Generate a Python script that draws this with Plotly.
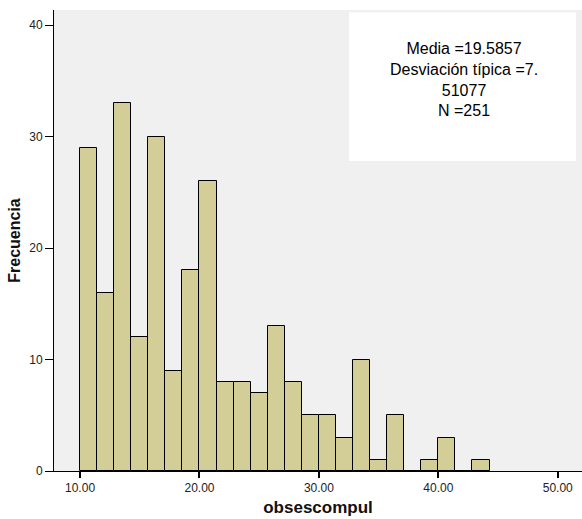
import plotly.graph_objects as go

# Data (histogram of obsescompul)
bin_start = 10.0
bin_width = 10.0 / 7.0
counts = [29, 16, 33, 12, 30, 9, 18, 26, 8, 8, 7, 13, 8, 5, 5, 3, 10, 1, 5, 0, 1, 3, 0, 1]
x_ticks = [10, 20, 30, 40, 50]
x_ticklabels = ["10.00", "20.00", "30.00", "40.00", "50.00"]
y_ticks = [0, 10, 20, 30, 40]
stats_lines = ["Media =19.5857", "Desviación típica =7.", "51077", "N =251"]

W, H = 582, 519
L, R, T, B = 54, 0, 10, 48
PW, PH = W - L - R, H - T - B

def px(x):
    return (x - L) / PW

def py(y):
    return (H - B - y) / PH

centers = [bin_start + bin_width * (i + 0.5) for i in range(len(counts))]

fig = go.Figure()
fig.add_trace(go.Bar(
    x=centers, y=counts, width=[bin_width] * len(counts),
    marker=dict(color="#D3CE97", line=dict(color="#000000", width=1)),
    hoverinfo="skip",
))

fig.add_shape(type="rect", xref="paper", yref="paper",
              x0=px(349), x1=px(576), y0=py(161), y1=py(12.5),
              fillcolor="white", line=dict(width=0), layer="above")

fig.add_annotation(text="<br>".join(stats_lines), xref="paper", yref="paper",
                   x=px(464), y=py(80), xanchor="center", yanchor="middle",
                   showarrow=False, align="center",
                   font=dict(family="Arial, Liberation Sans", size=16, color="#000000"))

font = dict(family="Arial, Liberation Sans", size=12, color="#222222")
fig.update_layout(
    width=W, height=H,
    margin=dict(l=L, r=R, t=T, b=B, pad=0, autoexpand=False),
    paper_bgcolor="white", plot_bgcolor="#F0F0F0",
    showlegend=False, bargap=0,
    font=font,
    xaxis=dict(range=[7.82, 52.03], tickvals=x_ticks, ticktext=x_ticklabels,
               showgrid=False, zeroline=False, showline=True, linecolor="black", linewidth=1,
               ticks="outside", ticklen=6, tickcolor="black", tickwidth=2,
               tickfont=font, automargin=False,
               title=dict(text="<b>obsescompul</b>", standoff=6,
                          font=dict(family="Arial, Liberation Sans", size=17, color="#111111"))),
    yaxis=dict(range=[0, 41.35], tickvals=y_ticks,
               showgrid=False, zeroline=False, showline=True, linecolor="black", linewidth=1,
               ticks="outside", ticklen=8, tickcolor="black", tickwidth=1,
               tickfont=font, automargin=False,
               title=dict(text="<b>Frecuencia</b>", standoff=4,
                          font=dict(family="Arial, Liberation Sans", size=16, color="#111111"))),
)

fig.write_html("out.html", config={"displayModeBar": False},
               post_script="document.body.style.margin='0';document.body.style.padding='0';")
